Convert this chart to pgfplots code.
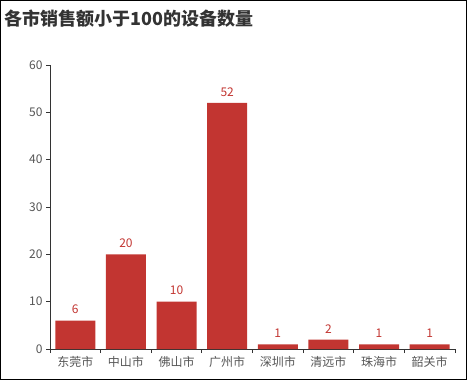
\documentclass[border=0pt]{standalone}
\usepackage{pgfplots}
\pgfplotsset{compat=1.18}
\usepackage{fontspec}
\setmainfont{Noto Sans CJK SC}
\definecolor{barred}{HTML}{C23531}
\definecolor{axgray}{HTML}{333333}
\definecolor{labgray}{HTML}{555555}
\begin{document}
\begin{tikzpicture}[x=1bp,y=1bp]
\useasboundingbox (0,0) rectangle (467,380);
\draw[black,line width=1.2bp] (0.6,0.6) rectangle (466.4,379.4);
\node[anchor=base west,font=\fontsize{18bp}{21bp}\selectfont\bfseries,text=axgray,inner sep=0pt] at (4,355) {各市销售额小于100的设备数量};
\begin{axis}[
  at={(50bp,31bp)}, anchor=south west,
  scale only axis, width=405bp, height=284bp,
  xmin=-0.5, xmax=7.5, ymin=0, ymax=60,
  axis x line=bottom, axis y line=left,
  axis line style={axgray,line width=0.8bp,-},
  xtick={0,...,7},
  xticklabels={东莞市,中山市,佛山市,广州市,深圳市,清远市,珠海市,韶关市},
  minor xtick={-0.5,0.5,...,7.5},
  major x tick style={draw=none},
  minor x tick style={axgray,line width=0.8bp},
  minor tick length=4bp,
  ytick={0,10,...,60},
  y tick style={axgray,line width=0.8bp},
  major tick length=4bp,
  tick align=outside,
  ticklabel style={font=\fontsize{12bp}{14bp}\selectfont,text=labgray},
  /pgf/number format/assume math mode=true,
  clip=false,
]
\addplot[ybar, bar width=40bp, fill=barred, draw=none,
  nodes near coords,
  every node near coord/.append style={font=\fontsize{12bp}{14bp}\selectfont,text=barred,yshift=3bp},
] coordinates {(0,6) (1,20) (2,10) (3,52) (4,1) (5,2) (6,1) (7,1)};
\end{axis}
\end{tikzpicture}
\end{document}
